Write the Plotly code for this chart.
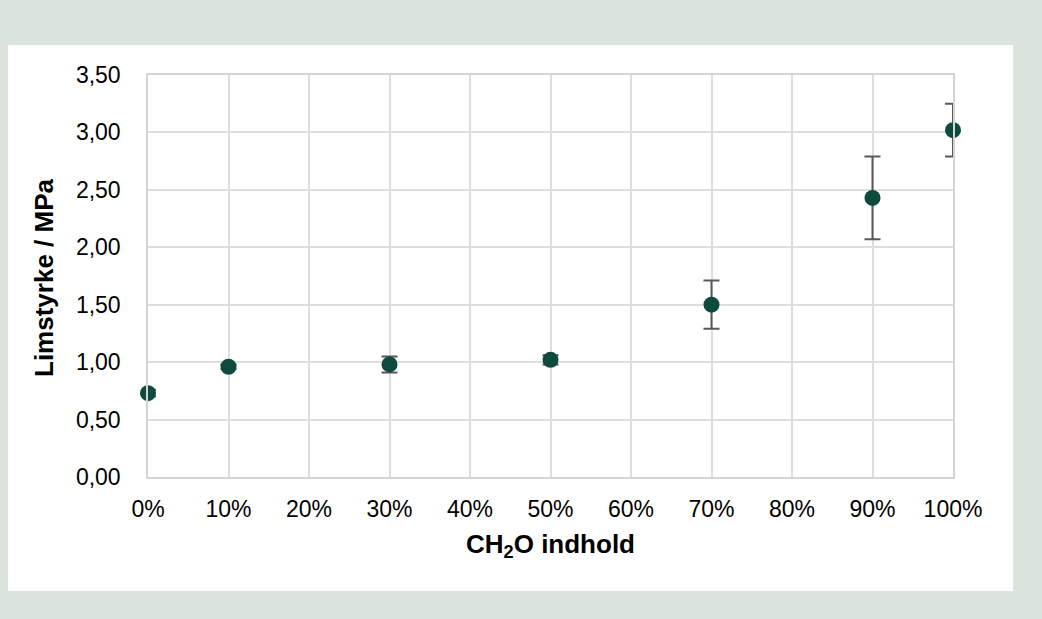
import plotly.graph_objects as go

x_vals = [0.0, 0.1, 0.3, 0.5, 0.7, 0.9, 1.0]
y_vals = [0.73, 0.96, 0.98, 1.02, 1.50, 2.43, 3.02]
y_err = [0.03, 0.02, 0.07, 0.04, 0.21, 0.36, 0.23]

W, H = 1042, 619
L, R, T, B = 148, 953, 75, 477
pw, ph = R - L, B - T

def px(xp):
    return (xp - L) / pw

def py(yp):
    return (B - yp) / ph

fig = go.Figure()
fig.add_trace(go.Scatter(
    x=x_vals, y=y_vals, mode="markers",
    marker=dict(size=16, color="#0e4b3e"),
    error_y=dict(type="data", array=y_err, visible=True,
                 color="#595959", thickness=2, width=8),
    showlegend=False, cliponaxis=False,
))

font = "Liberation Sans, Arial, sans-serif"
fig.update_layout(
    width=W, height=H,
    margin=dict(l=L, r=W - R, t=T, b=H - B, autoexpand=False),
    paper_bgcolor="#dbe5de",
    plot_bgcolor="white",
    separators=",.",
    font=dict(family=font, size=23, color="#000000"),
    xaxis=dict(range=[0, 1], dtick=0.1, tick0=0, tickformat=".0%",
               showgrid=True, gridcolor="#dedede", gridwidth=1.5,
               showline=True, mirror=True, linecolor="#d4d4d4", linewidth=1.5,
               zeroline=False, ticks="", ticklabelstandoff=11,
               tickfont=dict(size=23)),
    yaxis=dict(range=[0, 3.5], dtick=0.5, tick0=0, tickformat=".2f",
               showgrid=True, gridcolor="#dedede", gridwidth=1.5,
               showline=True, mirror=True, linecolor="#d4d4d4", linewidth=1.5,
               zeroline=False, ticks="", ticklabelstandoff=21,
               tickfont=dict(size=23)),
    shapes=[dict(type="rect", xref="paper", yref="paper",
                 x0=px(8), x1=px(1013), y0=py(591), y1=py(45),
                 fillcolor="white", line=dict(width=0), layer="below")],
    annotations=[
        dict(text="<b>CH<sub>2</sub>O indhold</b>", xref="paper", yref="paper",
             x=0.5, y=py(545), xanchor="center", yanchor="middle",
             showarrow=False, font=dict(size=26)),
        dict(text="<b>Limstyrke / MPa</b>", xref="paper", yref="paper",
             x=px(44), y=py(278), xanchor="center", yanchor="middle",
             textangle=-90, showarrow=False, font=dict(size=26)),
    ],
)

fig.write_html("out.html")
